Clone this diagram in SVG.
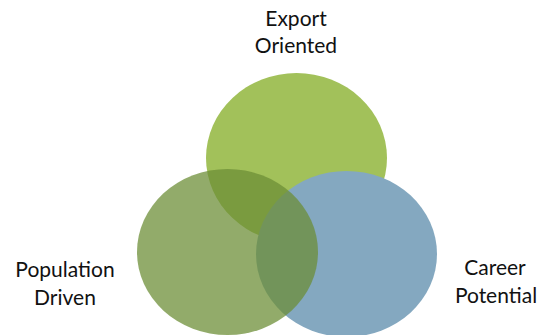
<svg xmlns="http://www.w3.org/2000/svg" width="548" height="335" viewBox="0 0 548 335">
<style>
.lbl{font-family:Lato,"Open Sans","Liberation Sans",sans-serif;font-size:21px;fill:#111;text-anchor:middle}
</style>
<rect width="548" height="335" fill="#fff"/>
<g id="export">
<ellipse cx="296.5" cy="158" rx="90.5" ry="85" fill="#A2C15A"/>
<text class="lbl" x="296" y="26">Export</text>
<text class="lbl" x="296" y="53">Oriented</text>
</g>
<g id="career">
<ellipse cx="346.5" cy="254" rx="90.5" ry="83" fill="#84A8C0"/>
<text class="lbl" x="495" y="275">Career</text>
<text class="lbl" x="496" y="303">Potential</text>
</g>
<g id="population">
<ellipse cx="227.5" cy="252" rx="90.5" ry="83" fill="#6C8E36" fill-opacity="0.74"/>
<text class="lbl" x="65" y="277">Population</text>
<text class="lbl" x="65" y="305">Driven</text>
</g>
<g id="connectors"></g>
</svg>
